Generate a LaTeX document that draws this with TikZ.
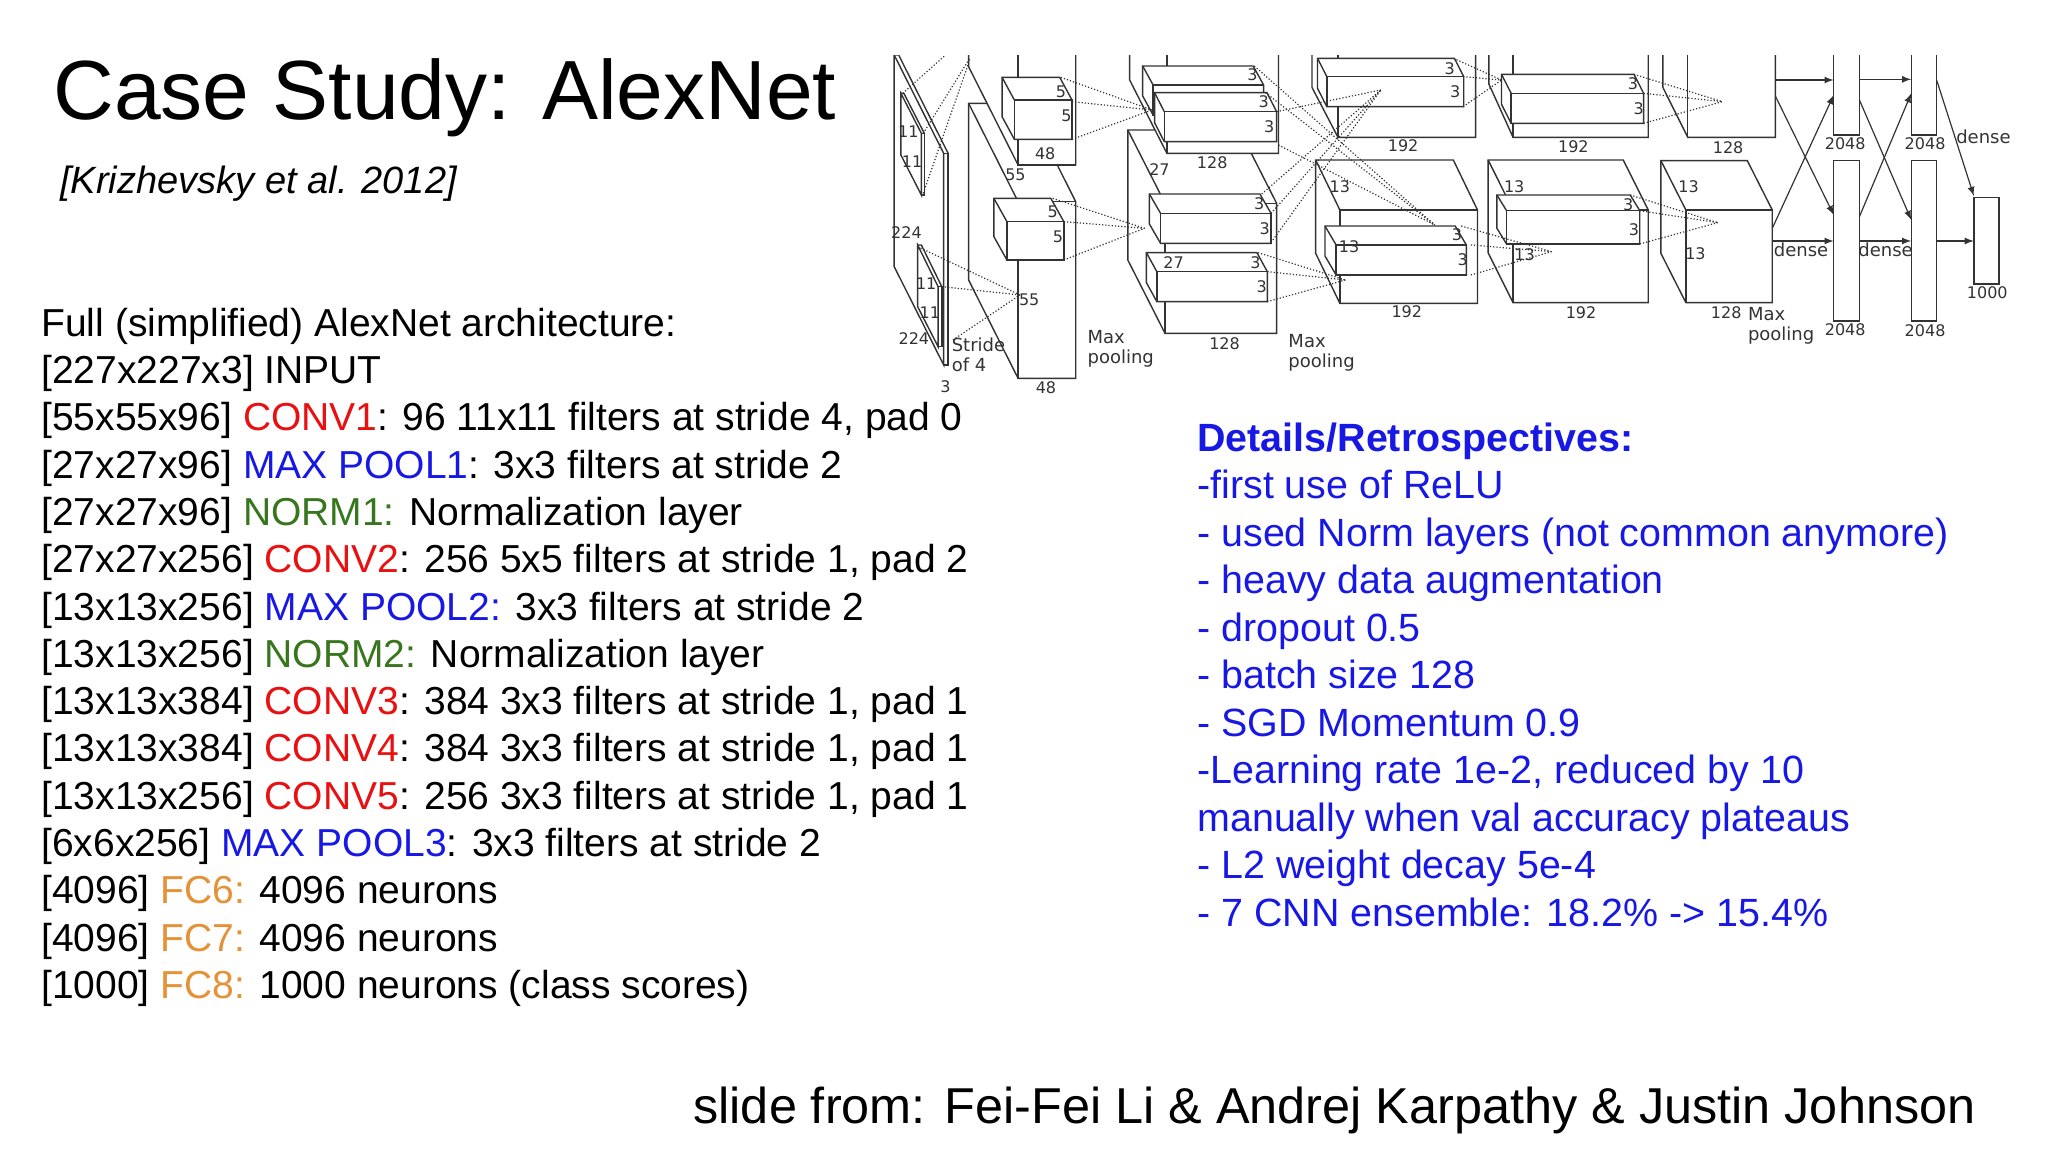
\documentclass[tikz,border=0pt]{standalone}
\usepackage{fontspec}
\setmainfont{Liberation Sans}
\newfontfamily\figfont{DejaVu Sans}
\definecolor{cred}{RGB}{232,16,16}
\definecolor{cblue}{RGB}{24,24,228}
\definecolor{cgreen}{RGB}{56,118,29}
\definecolor{corange}{RGB}{228,145,56}
\newcommand\cuboid[6]{%
  \filldraw[fill=white] (#1+#5,#2+#6) -- (#1+#3+#5,#2+#6) -- (#1+#3,#2) -- (#1+#3,#2+#4) -- (#1,#2+#4) -- (#1+#5,#2+#4+#6) -- cycle;
  \draw (#1,#2) rectangle (#1+#3,#2+#4);
  \draw (#1,#2) -- (#1+#5,#2+#6);}
\begin{document}
\begin{tikzpicture}[x=0.5pt,y=-0.5pt,
  txt/.style={anchor=west,inner sep=0pt,font=\fontsize{19.5pt}{24pt}\selectfont,text height=0.72em,text depth=0.2em},
  bl/.style={txt,text=cblue,font=\fontsize{19.7pt}{24pt}\selectfont},
  lab/.style={inner sep=0pt,font=\figfont\fontsize{8pt}{9pt}\selectfont,text=black!80},
  mp/.style={inner sep=0pt,anchor=north west,align=left,font=\figfont\fontsize{9pt}{10pt}\selectfont,text=black!80},
  dl/.style={densely dotted,line width=0.6pt},
  arr/.style={-latex,line width=0.6pt}]
\useasboundingbox (0,0) rectangle (2048,1152);
\node[anchor=west,inner sep=0pt,font=\fontsize{42pt}{50pt}\selectfont] (title) at (53,98) {Case Study: AlexNet};
\node[anchor=west,inner sep=0pt,font=\fontsize{19pt}{23pt}\itshape] (cite) at (60,184) {[Krizhevsky et al. 2012]};
\node[txt] (l1) at (41,331) {Full (simplified) AlexNet architecture:};
\node[txt] (l2) at (41,378.3) {[227x227x3] INPUT};
\node[txt] (l3) at (41,425.6) {[55x55x96] \textcolor{cred}{CONV1}: 96 11x11 filters at stride 4, pad 0};
\node[txt] (l4) at (41,472.9) {[27x27x96] \textcolor{cblue}{MAX POOL1}: 3x3 filters at stride 2};
\node[txt] (l5) at (41,520.2) {[27x27x96] \textcolor{cgreen}{NORM1:} Normalization layer};
\node[txt] (l6) at (41,567.5) {[27x27x256] \textcolor{cred}{CONV2}: 256 5x5 filters at stride 1, pad 2};
\node[txt] (l7) at (41,614.8) {[13x13x256] \textcolor{cblue}{MAX POOL2:} 3x3 filters at stride 2};
\node[txt] (l8) at (41,662.1) {[13x13x256] \textcolor{cgreen}{NORM2:} Normalization layer};
\node[txt] (l9) at (41,709.4) {[13x13x384] \textcolor{cred}{CONV3}: 384 3x3 filters at stride 1, pad 1};
\node[txt] (l10) at (41,756.7) {[13x13x384] \textcolor{cred}{CONV4}: 384 3x3 filters at stride 1, pad 1};
\node[txt] (l11) at (41,804) {[13x13x256] \textcolor{cred}{CONV5}: 256 3x3 filters at stride 1, pad 1};
\node[txt] (l12) at (41,851.3) {[6x6x256] \textcolor{cblue}{MAX POOL3}: 3x3 filters at stride 2};
\node[txt] (l13) at (41,898.6) {[4096] \textcolor{corange}{FC6:} 4096 neurons};
\node[txt] (l14) at (41,945.9) {[4096] \textcolor{corange}{FC7:} 4096 neurons};
\node[txt] (l15) at (41,993.2) {[1000] \textcolor{corange}{FC8:} 1000 neurons (class scores)};
\node[bl,font=\fontsize{19.7pt}{24pt}\bfseries] (r1) at (1197,446) {Details/Retrospectives:};
\node[bl] (r2) at (1197,493.5) {-first use of ReLU};
\node[bl] (r3) at (1197,541) {- used Norm layers (not common anymore)};
\node[bl] (r4) at (1197,588.5) {- heavy data augmentation};
\node[bl] (r5) at (1197,636) {- dropout 0.5};
\node[bl] (r6) at (1197,683.5) {- batch size 128};
\node[bl] (r7) at (1197,731) {- SGD Momentum 0.9};
\node[bl] (r8) at (1197,778.5) {-Learning rate 1e-2, reduced by 10};
\node[bl] (r9) at (1197,826) {manually when val accuracy plateaus};
\node[bl] (r10) at (1197,873.5) {- L2 weight decay 5e-4};
\node[bl] (r11) at (1197,921) {- 7 CNN ensemble: 18.2\% -> 15.4\%};
\node[anchor=west,inner sep=0pt,font=\fontsize{25.2pt}{29pt}\selectfont] (foot) at (693,1110) {slide from: Fei-Fei Li \& Andrej Karpathy \& Justin Johnson};
% ---------- diagram ----------
\begin{scope}[line width=0.7pt,draw=black!80]
\clip (880,55) rectangle (2048,420);
\begin{scope}[shift={(886,40)},xscale=0.372,yscale=0.3333]
% input
\filldraw[fill=white] (22,45) -- (155,340) -- (155,975) -- (22,680) -- cycle;
\draw (155,340) -- (167,340) -- (167,975) -- (155,975);
\draw (22,45) -- (34,45) -- (167,340);
\draw (40,160) -- (95,280) -- (95,465) -- (40,345) -- cycle;
\draw (95,280) -- (103,280) -- (103,465) -- (95,465); \draw (40,160) -- (48,160) -- (103,280);
\draw (85,615) -- (140,740) -- (140,920) -- (85,800) -- cycle;
\draw (140,740) -- (150,740) -- (150,920) -- (140,920); \draw (85,615) -- (95,615) -- (150,740);
% layer 1
\cuboid{355}{485}{155}{530}{-133}{-295}
\cuboid{355}{-200}{155}{575}{-133}{-295}
\cuboid{345}{180}{155}{118}{-33}{-68}
\cuboid{325}{545}{153}{115}{-35}{-70}
% layer 2
\cuboid{750}{490}{300}{390}{-100}{-220}
\cuboid{755}{-100}{300}{440}{-100}{-220}
\cuboid{718}{135}{297}{90}{-28}{-57}
\cuboid{748}{215}{302}{90}{-26}{-57}
\cuboid{738}{520}{297}{90}{-30}{-58}
\cuboid{728}{695}{297}{90}{-28}{-57}
% layer 3
\cuboid{1215}{-200}{370}{492}{-70}{-150}
\cuboid{1220}{510}{370}{280}{-65}{-150}
\cuboid{1185}{110}{368}{90}{-25}{-55}
\cuboid{1210}{615}{350}{90}{-30}{-57}
% dotted
\draw[dl] (45,160) -- (160,45); \draw[dl] (100,280) -- (225,55); \draw[dl] (100,460) -- (225,60);
\draw[dl] (85,620) -- (360,765); \draw[dl] (150,740) -- (360,765); \draw[dl] (180,900) -- (360,765);
\draw[dl] (470,112) -- (715,210); \draw[dl] (500,185) -- (715,210); \draw[dl] (500,298) -- (715,210);
\draw[dl] (448,475) -- (695,565); \draw[dl] (478,545) -- (695,565); \draw[dl] (478,660) -- (695,565);
\draw[dl] (990,78) -- (1475,555); \draw[dl] (1020,158) -- (1475,555); \draw[dl] (1050,215) -- (1330,150); \draw[dl] (1055,315) -- (1475,555);
\draw[dl] (1010,462) -- (1330,150); \draw[dl] (1035,520) -- (1330,150); \draw[dl] (1040,600) -- (1330,150);
\draw[dl] (1000,638) -- (1235,720); \draw[dl] (1025,695) -- (1235,720); \draw[dl] (1025,785) -- (1235,720);
% labels
\node[lab] (a1) at (60,275) {11}; \node[lab] (a2) at (70,365) {11};
\node[lab] (a3) at (108,732) {11}; \node[lab] (a4) at (118,818) {11};
\node[lab] (a5) at (55,578) {224}; \node[lab] (a6) at (75,895) {224};
\node[lab] (a7) at (160,1040) {3};
\node[mp] (a8) at (175,890) {Stride\\of 4};
\node[lab] (b1) at (470,155) {5}; \node[lab] (b2) at (485,228) {5};
\node[lab] (b3) at (448,515) {5}; \node[lab] (b4) at (462,590) {5};
\node[lab] (b5) at (428,340) {48}; \node[lab] (b6) at (430,1042) {48};
\node[lab] (b7) at (348,405) {55}; \node[lab] (b8) at (385,780) {55};
\node[mp] (b9) at (540,870) {Max\\pooling};
\node[lab] (c1) at (985,105) {3}; \node[lab] (c2) at (1015,185) {3}; \node[lab] (c3) at (1030,260) {3};
\node[lab] (c4) at (1003,490) {3}; \node[lab] (c5) at (1018,565) {3};
\node[lab] (c6) at (993,668) {3}; \node[lab] (c7) at (1010,740) {3};
\node[lab] (c8) at (735,390) {27}; \node[lab] (c9) at (773,668) {27};
\node[lab] (c10) at (877,368) {128}; \node[lab] (c11) at (910,912) {128};
\node[mp] (c12) at (1080,880) {Max\\pooling};
\node[lab] (d1) at (1515,85) {3}; \node[lab] (d2) at (1530,155) {3};
\node[lab] (d3) at (1535,585) {3}; \node[lab] (d4) at (1550,660) {3};
\node[lab] (d5) at (1220,440) {13}; \node[lab] (d6) at (1245,620) {13};
\node[lab] (d7) at (1390,318) {192}; \node[lab] (d8) at (1400,815) {192};
\end{scope}
\begin{scope}[shift={(1442,40)},xscale=0.384,yscale=0.3333]
% layer 4
\cuboid{185}{-200}{352}{492}{-63}{-160}
\cuboid{185}{510}{352}{278}{-65}{-150}
\cuboid{180}{160}{345}{90}{-25}{-57}
\cuboid{168}{512}{347}{100}{-25}{-47}
% layer 5
\cuboid{640}{-200}{228}{492}{-65}{-150}
\cuboid{635}{510}{225}{278}{-65}{-148}
% dense
\draw (1020,-10) rectangle (1087,285);
\draw (1020,362) rectangle (1087,843);
\draw (1222,-10) rectangle (1288,285);
\draw (1222,362) rectangle (1288,843);
\draw (1385,472) rectangle (1450,732);
\draw[arr] (868,120) -- (1020,120);
\draw[arr] (1087,118) -- (1222,118);
\draw[arr] (868,168) -- (1020,525);
\draw[arr] (860,565) -- (1020,165);
\draw[arr] (860,603) -- (1020,603);
\draw[arr] (1087,180) -- (1222,540);
\draw[arr] (1087,530) -- (1222,160);
\draw[arr] (1087,603) -- (1222,603);
\draw[arr] (1288,120) -- (1385,468);
\draw[arr] (1288,603) -- (1385,603);
% dotted
\draw[dl] (30,55) -- (155,120); \draw[dl] (55,110) -- (155,120); \draw[dl] (55,200) -- (155,120);
\draw[dl] (50,558) -- (285,635); \draw[dl] (75,615) -- (285,635); \draw[dl] (75,705) -- (285,635);
\draw[dl] (500,103) -- (730,185); \draw[dl] (525,160) -- (730,185); \draw[dl] (525,250) -- (730,185);
\draw[dl] (490,465) -- (718,548); \draw[dl] (515,512) -- (718,548); \draw[dl] (515,612) -- (718,548);
% labels
\node[lab] (e1) at (497,130) {3}; \node[lab] (e2) at (512,207) {3};
\node[lab] (e3) at (485,493) {3}; \node[lab] (e4) at (500,568) {3};
\node[lab] (e5) at (188,440) {13}; \node[lab] (e6) at (215,645) {13};
\node[lab] (e7) at (342,320) {192}; \node[lab] (e8) at (362,818) {192};
\node[lab] (f1) at (642,440) {13}; \node[lab] (f2) at (660,640) {13};
\node[lab] (f3) at (745,322) {128}; \node[lab] (f4) at (740,818) {128};
\node[mp] (f5) at (795,800) {Max\\pooling};
\node[lab] (g1) at (1050,310) {2048}; \node[lab] (g2) at (1050,868) {2048};
\node[lab] (g3) at (1258,310) {2048}; \node[lab] (g4) at (1258,872) {2048};
\node[lab] (g5) at (1420,757) {1000};
\node[lab,font=\figfont\fontsize{9pt}{10pt}\selectfont] (h1) at (935,630) {dense};
\node[lab,font=\figfont\fontsize{9pt}{10pt}\selectfont] (h2) at (1155,630) {dense};
\node[lab,font=\figfont\fontsize{9pt}{10pt}\selectfont] (h3) at (1410,290) {dense};
\end{scope}
\end{scope}
\end{tikzpicture}
\end{document}
